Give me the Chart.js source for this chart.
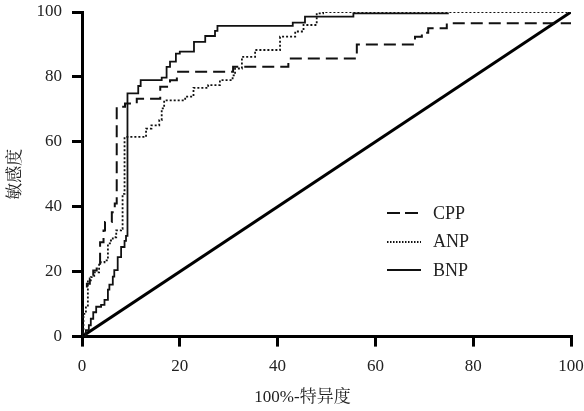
<!DOCTYPE html>
<html>
<head>
<meta charset="utf-8">
<script src="https://cdn.jsdelivr.net/npm/chart.js@4.4.1/dist/chart.umd.min.js"></script>
<style>
  html, body { margin: 0; padding: 0; background: #fff; }
  .wrap { position: relative; width: 584px; height: 411px; }
  .legend { position: absolute; left: 387px; top: 199px; font: 18px "Liberation Serif", serif; color: #222; }
  .legend .row { display: flex; align-items: center; height: 28.5px; }
  .legend svg { margin-right: 12px; }
</style>
</head>
<body>
<div class="wrap">
  <canvas id="roc" width="584" height="411"></canvas>
  <div class="legend" id="legend"></div>
</div>
<script>
const fontFamily = '"Liberation Serif", "Noto Serif CJK SC", "Noto Sans CJK SC", serif';

const xTicks = [0, 20, 40, 60, 80, 100];
const xTitle = '\u2002\u2002\u2002\u2002100%-特异度';
const yTitle = '敏感度';

// step curves: each point is the top of a vertical rise
const cppX = [0, 0, 1.0, 1.6, 2.3, 3.0, 3.7, 4.4, 4.7, 6.1, 6.7, 7.1, 8.8, 11.2, 16.0, 18.0, 19.4, 30.9, 42.2, 56.2, 68.1, 69.5, 70.8, 74.6, 86.5, 100];
const cppY = [0, 14.7, 16.3, 17.9, 20.4, 21.0, 29.1, 32.7, 35.3, 38.3, 41.0, 70.8, 71.8, 73.3, 77.0, 79.0, 81.6, 83.1, 85.7, 90.0, 92.4, 93.6, 95.0, 96.5, 96.5, 96.5];

const anpX = [0, 0.3, 0.8, 1.2, 1.8, 2.5, 3.5, 4.6, 5.3, 5.9, 6.3, 7.0, 8.0, 8.3, 8.7, 13.1, 14.2, 15.8, 16.3, 16.8, 21.1, 22.8, 25.8, 28.2, 30.8, 31.3, 32.7, 35.4, 40.5, 43.6, 45.3, 48.0, 49.3, 100];
const anpY = [0, 7.0, 9.0, 17.3, 18.3, 19.8, 22.9, 23.5, 28.7, 29.6, 30.6, 32.7, 33.2, 44.0, 61.5, 64.1, 65.1, 66.7, 70.3, 72.8, 73.9, 76.6, 77.5, 79.0, 80.5, 82.6, 86.2, 88.3, 92.4, 94.0, 96.0, 99.6, 100, 100];

const bnpX = [0, 0.8, 1.4, 1.8, 2.3, 2.9, 3.9, 4.6, 5.3, 5.6, 6.3, 6.6, 7.3, 8.0, 8.7, 9.0, 9.3, 11.5, 12.0, 16.3, 17.3, 18.0, 19.2, 20.0, 22.9, 25.2, 27.2, 27.7, 43.1, 45.6, 55.5, 75.0];
const bnpY = [0, 2.0, 3.5, 5.5, 7.5, 9.2, 9.8, 11.3, 14.5, 16.0, 18.5, 20.5, 24.5, 27.6, 29.5, 31.0, 74.9, 77.2, 79.0, 79.8, 83.1, 84.7, 87.2, 87.8, 90.8, 92.6, 94.2, 95.7, 96.7, 98.6, 99.6, 99.6];

const refX = [0, 100];
const refY = [0, 100];

const toPoints = (xs, ys) => xs.map((x, i) => ({ x, y: ys[i] }));

const series = [
  { label: 'CPP', x: cppX, y: cppY, width: 2, dash: [12, 6], legendDash: '13 5' },
  { label: 'ANP', x: anpX, y: anpY, width: 1.8, dash: [2, 2], legendDash: '1.5 1.5' },
  { label: 'BNP', x: bnpX, y: bnpY, width: 1.8, dash: [], legendDash: '' },
];

const datasets = series.map(s => ({
  label: s.label,
  data: toPoints(s.x, s.y),
  borderColor: '#111',
  borderWidth: s.width,
  borderDash: s.dash,
  stepped: true,
  pointRadius: 0,
  fill: false,
}));

datasets.push({
  label: 'ref',
  data: toPoints(refX, refY),
  borderColor: '#000',
  borderWidth: 3,
  pointRadius: 0,
  fill: false,
});

const axisBase = {
  type: 'linear',
  min: 0,
  max: 100,
  ticks: {
    stepSize: 20,
    color: '#222',
    padding: 10,
    font: { family: fontFamily, size: 17 },
  },
  grid: {
    drawOnChartArea: false,
    drawTicks: true,
    tickLength: 10,
    lineWidth: 3,
    color: '#000',
  },
  border: { display: true, width: 3, color: '#000' },
};

new Chart(document.getElementById('roc'), {
  type: 'line',
  data: { datasets },
  options: {
    responsive: false,
    animation: false,
    layout: { padding: { top: 12, right: 13, left: 0, bottom: 0 } },
    plugins: {
      legend: { display: false },
      tooltip: { enabled: false },
      title: {
        display: true,
        position: 'bottom',
        text: xTitle,
        color: '#222',
        font: { family: fontFamily, size: 17, weight: 'normal' },
        padding: { top: 0, bottom: 3 },
      },
    },
    scales: {
      x: {
        ...axisBase,
        ticks: { ...axisBase.ticks, callback: v => (xTicks.includes(v) ? v : '') },
        afterFit: scale => {
          scale.height = 51;
          scale.paddingRight = 0;
        },
      },
      y: {
        ...axisBase,
        title: {
          display: true,
          text: yTitle,
          color: '#222',
          font: { family: fontFamily, size: 17 },
          padding: { top: 5, bottom: 0 },
        },
        afterFit: scale => {
          scale.width = 82;
          scale.paddingTop = 0;
        },
      },
    },
  },
});

// legend drawn as html next to the curves
const legendEl = document.getElementById('legend');
series.forEach(s => {
  const row = document.createElement('div');
  row.className = 'row';
  const dash = s.legendDash ? ` stroke-dasharray="${s.legendDash}"` : '';
  row.innerHTML = `<svg width="34" height="4"><line x1="0" y1="2" x2="34" y2="2" stroke="#111" stroke-width="${s.width}"${dash}/></svg><span>${s.label}</span>`;
  legendEl.appendChild(row);
});
</script>
</body>
</html>
